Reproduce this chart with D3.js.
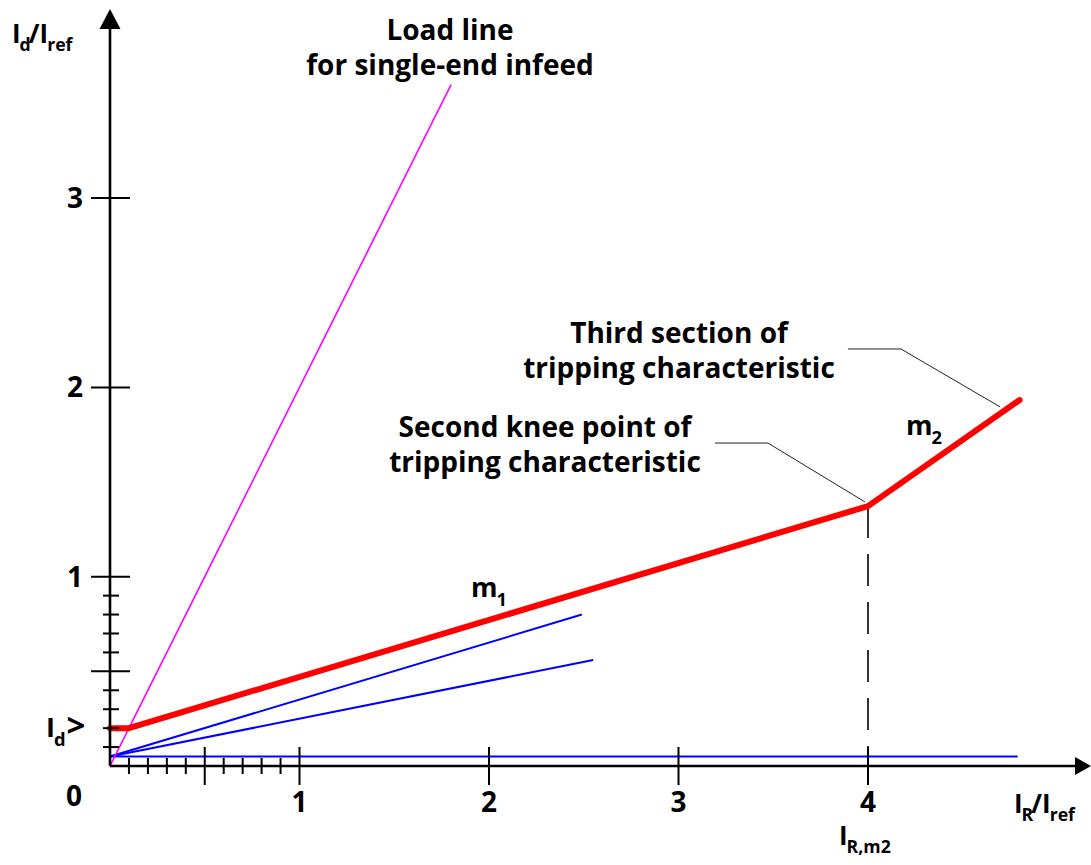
<!DOCTYPE html>
<html>
<head>
<meta charset="utf-8">
<script src="https://cdn.jsdelivr.net/npm/d3@7"></script>
<style>
  body { margin: 0; background: #fff; }
  svg text { font-family: "Open Sans", "Noto Sans", sans-serif; font-weight: 700; fill: #000; }
</style>
</head>
<body>
<svg id="chart" width="1091" height="865"></svg>
<script>
// tripping characteristic (red), in units of I/Iref
var tripX = [0, 0.1, 4, 4.8];
var tripY = [0.2, 0.2, 1.373, 1.933];
// load line for single-end infeed (magenta)
var loadX = [0, 1.8];
var loadY = [0, 3.6];
// blue reference lines
var blueLines = [
  {x: [0, 4.79], y: [0.05, 0.05]},
  {x: [0, 2.49], y: [0.05, 0.80]},
  {x: [0, 2.55], y: [0.05, 0.56]}
];
// knee point and leader lines
var kneeX = 4, kneeY = 1.373;
var leader1 = {x: [3.193, 3.472, 3.984], y: [1.706, 1.706, 1.395]};
var leader2 = {x: [3.894, 4.174, 4.697], y: [2.203, 2.203, 1.897]};
// ticks
var xMajor = [1, 2, 3, 4];
var yMajor = [1, 2, 3];
var halfTick = [0.5];
var minorTicks = [0.1, 0.2, 0.3, 0.4, 0.6, 0.7, 0.8, 0.9];

var svg = d3.select('#chart');

var x = d3.scaleLinear().domain([0, 5]).range([110, 110 + 5 * 189.5]);
var y = d3.scaleLinear().domain([0, 4]).range([766, 766 - 4 * 189.3]);

var line = d3.line()
  .x(function(d) { return x(d[0]); })
  .y(function(d) { return y(d[1]); });

function pairs(xs, ys) {
  return xs.map(function(v, i) { return [v, ys[i]]; });
}

// blue lines
svg.selectAll('path.blue')
  .data(blueLines)
  .enter().append('path')
  .attr('class', 'blue')
  .attr('d', function(d) { return line(pairs(d.x, d.y)); })
  .style('fill', 'none')
  .style('stroke', '#0000ff')
  .style('stroke-width', 2);

// load line
svg.append('path')
  .attr('d', line(pairs(loadX, loadY)))
  .style('fill', 'none')
  .style('stroke', '#ff00ff')
  .style('stroke-width', 1.6);

// dashed line under the knee
svg.append('line')
  .attr('x1', x(kneeX)).attr('x2', x(kneeX))
  .attr('y1', y(kneeY)).attr('y2', y(0) + 19)
  .style('stroke', '#000')
  .style('stroke-width', 1.6)
  .style('stroke-dasharray', '32,16');

// leader lines
[leader1, leader2].forEach(function(l) {
  svg.append('path')
    .attr('d', line(pairs(l.x, l.y)))
    .style('fill', 'none')
    .style('stroke', '#222')
    .style('stroke-width', 1);
});

// tripping characteristic
svg.append('path')
  .attr('d', line(pairs(tripX, tripY)))
  .style('fill', 'none')
  .style('stroke', '#ff0000')
  .style('stroke-width', 6)
  .style('stroke-linecap', 'round')
  .style('stroke-linejoin', 'round');

// axes
var ax = svg.append('g').style('stroke', '#000');
ax.append('line')
  .attr('x1', x(0)).attr('x2', 1076)
  .attr('y1', y(0)).attr('y2', y(0))
  .style('stroke-width', 2.6);
ax.append('line')
  .attr('x1', x(0)).attr('x2', x(0))
  .attr('y1', y(0)).attr('y2', 28)
  .style('stroke-width', 2.6);
svg.append('path')
  .attr('d', 'M1091,' + y(0) + 'L1075,' + (y(0) - 9) + 'L1075,' + (y(0) + 9) + 'Z')
  .style('fill', '#000');
svg.append('path')
  .attr('d', 'M' + x(0) + ',9L' + (x(0) - 10.5) + ',29L' + (x(0) + 10.5) + ',29Z')
  .style('fill', '#000');

// x ticks
ax.selectAll('line.xmaj')
  .data(xMajor.concat(halfTick))
  .enter().append('line')
  .attr('x1', function(d) { return x(d); }).attr('x2', function(d) { return x(d); })
  .attr('y1', y(0) - 19).attr('y2', y(0) + 19)
  .style('stroke-width', 2);
ax.selectAll('line.xmin')
  .data(minorTicks)
  .enter().append('line')
  .attr('x1', function(d) { return x(d); }).attr('x2', function(d) { return x(d); })
  .attr('y1', y(0) - 8).attr('y2', y(0) + 8)
  .style('stroke-width', 2);

// y ticks
ax.selectAll('line.ymaj')
  .data(yMajor.concat(halfTick))
  .enter().append('line')
  .attr('y1', function(d) { return y(d); }).attr('y2', function(d) { return y(d); })
  .attr('x1', x(0) - 19).attr('x2', x(0) + 20)
  .style('stroke-width', 2);
ax.selectAll('line.ymin')
  .data(minorTicks)
  .enter().append('line')
  .attr('y1', function(d) { return y(d); }).attr('y2', function(d) { return y(d); })
  .attr('x1', x(0) - 7).attr('x2', x(0) + 9)
  .style('stroke-width', 2);

// tick labels
svg.selectAll('text.xl')
  .data(xMajor)
  .enter().append('text')
  .attr('x', function(d) { return x(d); })
  .attr('y', 812)
  .attr('text-anchor', 'middle')
  .style('font-size', '28px')
  .text(function(d) { return d; });
svg.selectAll('text.yl')
  .data(yMajor)
  .enter().append('text')
  .attr('x', 83)
  .attr('y', function(d) { return y(d) + 10; })
  .attr('text-anchor', 'end')
  .style('font-size', '28px')
  .text(function(d) { return d; });
svg.append('text')
  .attr('x', 74).attr('y', 806)
  .attr('text-anchor', 'middle')
  .style('font-size', '28px')
  .text('0');

// text with subscripts: parts = [[text, shift, dx, size], ...], shift 1 = down to subscript, -1 = back up
function subText(px, py, parts, size, anchor) {
  var t = svg.append('text')
    .attr('x', px).attr('y', py)
    .attr('text-anchor', anchor || 'start')
    .style('font-size', size + 'px');
  parts.forEach(function(p) {
    var s = t.append('tspan').text(p[0]);
    if (p[1] === 1) s.attr('dy', size * 0.32).attr('dx', -1).style('font-size', (size * 0.68) + 'px');
    if (p[1] === -1) s.attr('dy', -size * 0.32).attr('dx', p[2] || 0);
    if (p[3]) s.style('font-size', p[3] + 'px');
  });
  return t;
}

subText(12, 43, [['I'], ['d', 1], ['/', -1, -2], ['I'], ['ref', 1]], 26);
subText(46, 737, [['I'], ['d', 1], ['>', -1, 1, 33]], 27);
subText(1014, 813, [['I'], ['R', 1], ['/', -1, -2], ['I'], ['ref', 1]], 26);
subText(839, 845, [['I'], ['R,m2', 1]], 26);
subText(471, 597, [['m'], ['1', 1]], 27);
subText(906, 435, [['m'], ['2', 1]], 27);

// annotation blocks
function block(cx, y0, lines) {
  svg.selectAll(null)
    .data(lines)
    .enter().append('text')
    .attr('x', cx)
    .attr('y', function(d, i) { return y0 + i * 34.5; })
    .attr('text-anchor', 'middle')
    .style('font-size', '28px')
    .text(function(d) { return d; });
}
block(450, 40, ['Load line', 'for single-end infeed']);
block(545, 437, ['Second knee point of', 'tripping characteristic']);
block(679, 343, ['Third section of', 'tripping characteristic']);
</script>
</body>
</html>
